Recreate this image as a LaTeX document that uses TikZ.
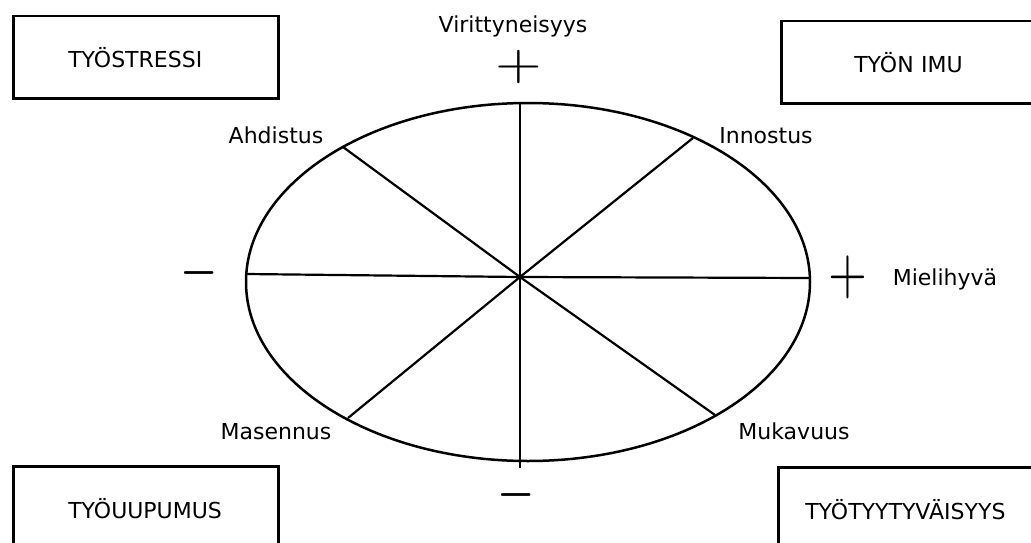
\documentclass[tikz,border=0pt]{standalone}
\usepackage[no-math]{fontspec}
\setmainfont{DejaVu Sans}
\usetikzlibrary{positioning}

\begin{document}
\begin{tikzpicture}[x=1pt,y=-1pt,
          box/.style={draw, line width=2.5pt, anchor=north west, align=left, minimum height=82pt, inner ysep=0pt, font=\fontsize{22}{26}\selectfont},
          tag/.style={anchor=base, inner sep=0pt, font=\fontsize{22}{26}\selectfont},
          sign/.style={inner sep=0pt, font=\normalsize},
          spoke/.style={line width=2.2pt}
        ]
          \useasboundingbox (0,0) rectangle (1031,543);
          % corner boxes
          \node[box, minimum width=265pt, inner xsep=55pt, text width=155pt] (stressi) at (12,15) {TYÖSTRESSI};
          \node[box, minimum width=265pt, inner xsep=73pt, text width=119pt] (imu) at (780,20) {TYÖN IMU};
          \node[box, minimum width=265pt, inner xsep=55pt, text width=155pt, minimum height=84pt] (uupumus) at (12,465) {TYÖUUPUMUS};
          \node[box, minimum width=268pt, inner xsep=26pt, text width=214pt, minimum height=84pt] (tyytyvaisyys) at (777,466) {TYÖTYYTYVÄISYYS};
          % circumplex
          \draw[line width=2.5pt] (528,282) ellipse [x radius=282, y radius=179];
          \coordinate (hub) at (520,277);
          \coordinate (top) at (520,103);
          \coordinate (bottom) at (520,468);
          \coordinate (west) at (246,274);
          \coordinate (east) at (810,278);
          \coordinate (nw) at (343,147);
          \coordinate (ne) at (693,138);
          \coordinate (sw) at (348,418);
          \coordinate (se) at (715,415);
          \draw[spoke] (top) -- (hub) -- (bottom);
          \draw[spoke] (west) -- (hub) -- (east);
          \draw[spoke] (nw) -- (hub) -- (se);
          \draw[spoke] (ne) -- (hub) -- (sw);
          % axis labels
          \node[tag] (viritys) at (513,33) {Virittyneisyys};
          \node[tag] (mielihyva) at (945,285) {Mielihyvä};
          \node[tag] (ahdistus) at (276,143) {Ahdistus};
          \node[tag] (innostus) at (766,143) {Innostus};
          \node[tag] (masennus) at (276,439) {Masennus};
          \node[tag] (mukavuus) at (794,439) {Mukavuus};
          \node[sign] (plustop) at (519,67) {\scalebox{6}[5]{$+$}};
          \node[sign] (plusright) at (848,277) {\scalebox{5}[6.45]{$+$}};
          \node[sign] (minusleft) at (199,273) {\scalebox{4.8}[7]{$-$}};
          \node[sign] (minusbottom) at (516,495) {\scalebox{4.8}[7]{$-$}};
        \end{tikzpicture}
\end{document}
